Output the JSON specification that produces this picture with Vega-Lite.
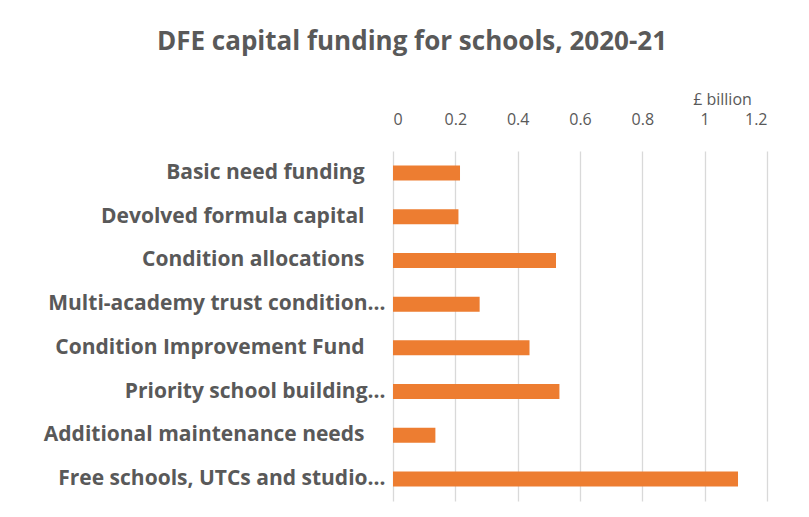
{
  "$schema": "https://vega.github.io/schema/vega-lite/v6.json",
  "autosize": {"type": "none"},
  "width": 374,
  "height": 350,
  "padding": {"left": 393, "top": 151, "right": 42, "bottom": 16},
  "background": "white",
  "title": {
    "text": "DFE capital funding for schools, 2020-21",
    "font": "Open Sans",
    "fontSize": 26,
    "fontWeight": "bold",
    "color": "#595959",
    "anchor": "middle",
    "frame": "group",
    "dx": -168,
    "dy": -32
  },
  "data": {
    "values": [
      {"category": "Basic need funding", "value": 0.215},
      {"category": "Devolved formula capital", "value": 0.21},
      {"category": "Condition allocations", "value": 0.523},
      {"category": "Multi-academy trust condition…", "value": 0.278},
      {"category": "Condition Improvement Fund", "value": 0.438},
      {"category": "Priority school building…", "value": 0.534},
      {"category": "Additional maintenance needs", "value": 0.136},
      {"category": "Free schools, UTCs and studio…", "value": 1.107}
    ]
  },
  "mark": {"type": "bar", "color": "#ED7D31"},
  "encoding": {
    "y": {
      "field": "category",
      "type": "nominal",
      "sort": null,
      "scale": {"paddingInner": 0.657, "paddingOuter": 0.33},
      "axis": {
        "title": null,
        "domain": false,
        "ticks": false,
        "labelFont": "Open Sans",
        "labelFontSize": 21,
        "labelFontWeight": "bold",
        "labelColor": "#595959",
        "labelPadding": 8,
        "labelLimit": 500,
        "labelExpr": "indexof(datum.label, '…') >= 0 ? datum.label : datum.label + '\u2002\u2002\u200b'"
      }
    },
    "x": {
      "field": "value",
      "type": "quantitative",
      "scale": {"domain": [0, 1.2], "nice": false},
      "axis": {
        "orient": "top",
        "values": [0, 0.2, 0.4, 0.6, 0.8, 1, 1.2],
        "format": "~g",
        "domain": false,
        "ticks": false,
        "grid": true,
        "gridColor": "#d9d9d9",
        "gridWidth": 1.3,
        "labelFont": "Open Sans",
        "labelFontSize": 16,
        "labelColor": "#595959",
        "labelPadding": 24,
        "title": "£ billion",
        "titleFont": "Open Sans",
        "titleFontSize": 16,
        "titleFontWeight": "normal",
        "titleColor": "#595959",
        "titleX": 329,
        "titleY": -47,
        "titleAlign": "center",
        "titleBaseline": "alphabetic"
      }
    }
  },
  "config": {"view": {"stroke": null}}
}
